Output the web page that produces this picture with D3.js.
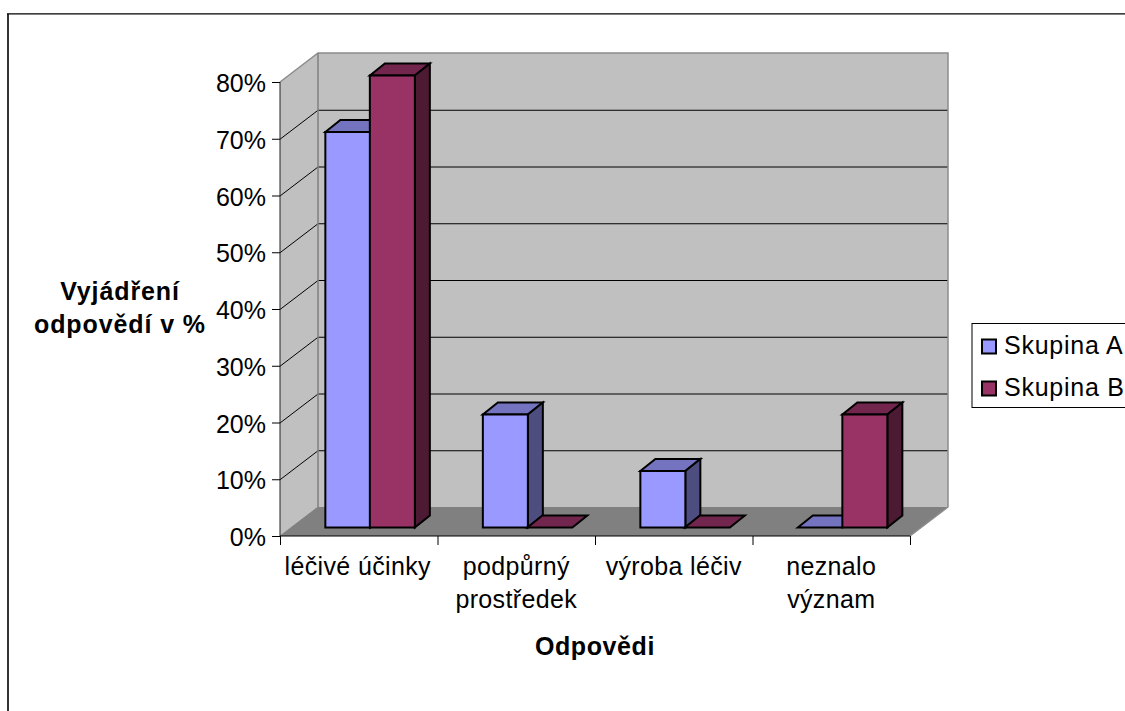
<!DOCTYPE html>
<html>
<head>
<meta charset="utf-8">
<script src="https://cdn.jsdelivr.net/npm/d3@7"></script>
<style>
html,body{margin:0;padding:0;background:#fff;overflow:hidden}
svg{display:block}
text{font-family:"Liberation Sans",Arial,sans-serif;fill:#000}
</style>
</head>
<body>
<svg id="chart" width="1125" height="711"></svg>
<script>
const categories = [["léčivé účinky"], ["podpůrný", "prostředek"], ["výroba léčiv"], ["neznalo", "význam"]];
const seriesNames = ["Skupina A", "Skupina B"];
const seriesA = [70, 20, 10, 0];
const seriesB = [80, 0, 0, 20];
const yTicks = [0, 10, 20, 30, 40, 50, 60, 70, 80];
const yTitle = ["Vyjádření", "odpovědí v %"];
const xTitle = "Odpovědi";

const palette = [
  {front: "#9999ff", top: "#7373bf", side: "#4d4d80"},
  {front: "#993366", top: "#73264d", side: "#4d1a33"}
];

const svg = d3.select("#chart");
const FS = 25;
const LINE = 33;

// Oblique projection: depth of the plot box and of the bars
const depth = {dx: 38, dy: -29};
const barDepth = {dx: 15, dy: -12};

const x = d3.scaleBand().domain(d3.range(categories.length)).range([280, 910]);
const y = d3.scaleLinear().domain([0, 80]).range([536, 82]);
const barY = d3.scaleLinear().domain([0, 80]).range([527.5, 75.5]);
const barWidth = 45;

const poly = pts => pts.map(p => p.join(",")).join(" ");
const x0 = x.range()[0], x1 = x.range()[1], y0 = y(0), yT = y(80);

// Outer chart frame, running off the right and bottom of the page
svg.append("path").attr("d", "M8,711V14").attr("fill", "none").attr("stroke", "#333").attr("stroke-width", 2);
svg.append("path").attr("d", "M7,13.8H1125").attr("fill", "none").attr("stroke", "#000").attr("stroke-width", 1.2);

// Walls and floor
svg.append("polygon").attr("points", poly([[x0, y0], [x0 + depth.dx, y0 + depth.dy], [x0 + depth.dx, yT + depth.dy], [x0, yT]])).attr("fill", "#c0c0c0");
svg.append("rect").attr("x", x0 + depth.dx).attr("y", yT + depth.dy).attr("width", x1 - x0).attr("height", y0 - yT).attr("fill", "#c0c0c0");
svg.append("polygon").attr("points", poly([[x0, y0], [x0 + depth.dx, y0 + depth.dy], [x1 + depth.dx, y0 + depth.dy], [x1, y0]])).attr("fill", "#808080");

// Grid lines across the side and back walls
yTicks.filter(t => t > 0 && t < 80).forEach(t => {
  const gy = y(t) + 0.5;
  svg.append("path")
    .attr("d", `M${x0},${gy}L${x0 + depth.dx},${gy + depth.dy}H${x1 + depth.dx}`)
    .attr("fill", "none").attr("stroke", "#000").attr("stroke-width", 1);
});

// Wall outlines
svg.append("path")
  .attr("d", `M${x0},${yT}L${x0 + depth.dx},${yT + depth.dy}H${x1 + depth.dx}V${y0 + depth.dy}L${x1},${y0}`)
  .attr("fill", "none").attr("stroke", "#8c8c8c").attr("stroke-width", 1.5);
svg.append("path")
  .attr("d", `M${x0 + depth.dx},${yT + depth.dy}V${y0 + depth.dy}`)
  .attr("fill", "none").attr("stroke", "#808080").attr("stroke-width", 1.5);
svg.append("path")
  .attr("d", `M${x0},${y0}L${x0 + depth.dx},${y0 + depth.dy}`)
  .attr("fill", "none").attr("stroke", "#808080").attr("stroke-width", 1);

// Axes along the front edge of the box
const yAxis = d3.axisLeft(y).tickValues(yTicks).tickSize(8).tickPadding(6).tickFormat(d => d + "%");
const gy = svg.append("g").attr("transform", `translate(${x0},0)`).call(yAxis);
gy.select(".domain").attr("d", `M0,${y(80)}V${y(0)}`).attr("stroke", "#222");
gy.selectAll("text").attr("font-size", FS).attr("font-family", '"Liberation Sans",Arial,sans-serif').attr("y", 1.5);

const xAxisScale = d3.scaleLinear().domain([0, categories.length]).range([x0, x1]);
const xAxis = d3.axisBottom(xAxisScale).ticks(categories.length).tickSize(9).tickFormat("");
const gx = svg.append("g").attr("transform", `translate(0,${y0})`).call(xAxis);
gx.select(".domain").attr("d", `M${x0},0H${x1}`).attr("stroke", "#000");

// Category labels, wrapped over two lines where needed
categories.forEach((lines, i) => {
  lines.forEach((line, j) => {
    svg.append("text").attr("x", x(i) + x.bandwidth() / 2 - (i === 0 ? 1 : 0)).attr("y", 575 + j * LINE)
      .attr("text-anchor", "middle").attr("font-size", FS).attr("letter-spacing", 0.35).text(line);
  });
});

// Bars: front, top and side faces
const bar = (cx, v, c) => {
  const l = cx, r = cx + barWidth, b = barY(0), t = barY(v);
  const g = svg.append("g").attr("stroke", "#000").attr("stroke-width", 2).attr("stroke-linejoin", "miter");
  g.append("polygon").attr("points", poly([[l, t], [l + barDepth.dx, t + barDepth.dy], [r + barDepth.dx, t + barDepth.dy], [r, t]])).attr("fill", c.top);
  if (v > 0) {
    g.append("polygon").attr("points", poly([[r, b], [r + barDepth.dx, b + barDepth.dy], [r + barDepth.dx, t + barDepth.dy], [r, t]])).attr("fill", c.side);
    g.append("rect").attr("x", l).attr("y", t).attr("width", barWidth).attr("height", b - t).attr("fill", c.front);
  }
};
categories.forEach((_, i) => {
  const start = x(i) + x.bandwidth() / 2 - 33.4;
  bar(start, seriesA[i], palette[0]);
  bar(start + 44.5, seriesB[i], palette[1]);
});

// Axis titles
yTitle.forEach((line, i) => {
  svg.append("text").attr("x", 120).attr("y", 300 + i * LINE).attr("text-anchor", "middle")
    .attr("font-size", FS).attr("font-weight", "bold").attr("letter-spacing", 0.9).text(line);
});
svg.append("text").attr("x", 595).attr("y", 655).attr("text-anchor", "middle")
  .attr("font-size", FS).attr("font-weight", "bold").attr("letter-spacing", 0.6).text(xTitle);

// Legend
const legend = svg.append("g");
legend.append("rect").attr("x", 972).attr("y", 323.5).attr("width", 170).attr("height", 84)
  .attr("fill", "#fff").attr("stroke", "#000").attr("stroke-width", 1);
seriesNames.forEach((name, i) => {
  const ly = 339.5 + i * 42;
  legend.append("rect").attr("x", 982).attr("y", ly).attr("width", 14).attr("height", 14)
    .attr("fill", palette[i].front).attr("stroke", "#000").attr("stroke-width", 2);
  legend.append("text").attr("x", 1004).attr("y", ly + 14).attr("font-size", FS).attr("letter-spacing", 0.75).text(name);
});
</script>
</body>
</html>
